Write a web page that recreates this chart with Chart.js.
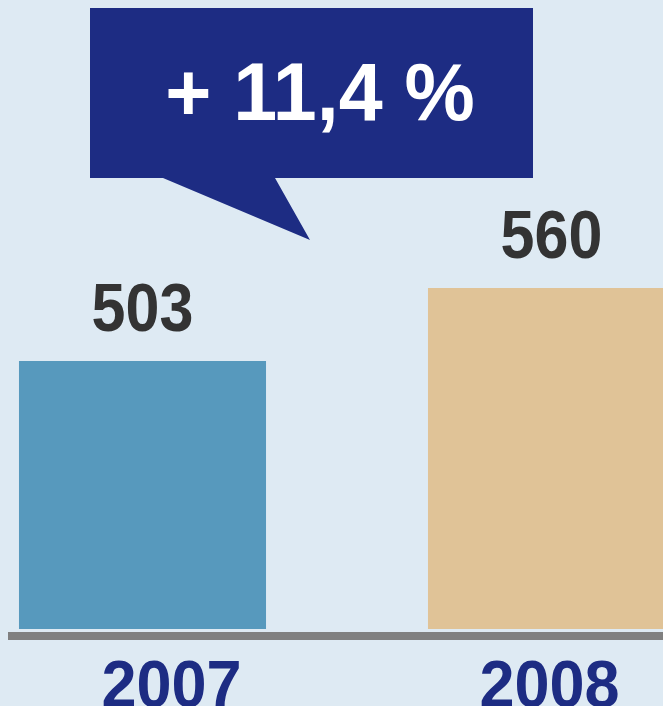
<!DOCTYPE html>
<html>
<head>
<meta charset="utf-8">
<script src="https://cdn.jsdelivr.net/npm/chart.js@4.4.0/dist/chart.umd.min.js"></script>
<style>
  html, body { margin: 0; padding: 0; background: #deeaf3; overflow: hidden; }
  #wrap { position: relative; width: 663px; height: 706px; overflow: hidden; }
  #myChart { position: absolute; left: -62px; top: 0; }
</style>
</head>
<body>
<div id="wrap"><canvas id="myChart" width="818" height="706"></canvas></div>
<script>
// chart data
let years = ['2007', '2008'];
let values = [503, 560];
let barColors = ['#5799bd', '#e0c397'];
let growthLabel = '+ 11,4 %';

let shiftX = 62; // canvas sits 62px left of the page

// draws text a bit taller than the font, like the original
function tallText(ctx, text, x, y, stretch) {
  ctx.save();
  ctx.translate(x, y);
  ctx.scale(1, stretch);
  ctx.fillText(text, 0, 0);
  ctx.restore();
}

// background, axis line, value labels, year labels, callout
let decor = {
  id: 'decor',
  beforeDraw(chart) {
    let ctx = chart.ctx;
    ctx.save();
    ctx.fillStyle = '#deeaf3';
    ctx.fillRect(0, 0, chart.width, chart.height);
    ctx.restore();
  },
  afterDatasetsDraw(chart) {
    let ctx = chart.ctx;
    let area = chart.chartArea;
    let bars = chart.getDatasetMeta(0).data;
    ctx.save();

    // base line
    ctx.fillStyle = '#808080';
    ctx.fillRect(8 + shiftX, area.bottom + 3, chart.width, 8);

    // values above bars
    ctx.font = 'bold 61px "Liberation Sans", Arial, sans-serif';
    ctx.fillStyle = '#333333';
    ctx.textAlign = 'center';
    ctx.textBaseline = 'alphabetic';
    bars.forEach((bar, i) => {
      tallText(ctx, String(values[i]), bar.x, bar.y - 30, 1.12);
    });

    // year labels
    let labelShift = [29, -2];
    ctx.fillStyle = '#1d2c83';
    ctx.font = 'bold 63px "Liberation Sans", Arial, sans-serif';
    bars.forEach((bar, i) => {
      tallText(ctx, years[i], bar.x + labelShift[i], area.bottom + 78, 1.07);
    });

    // callout box
    ctx.fillStyle = '#1d2c83';
    ctx.beginPath();
    ctx.moveTo(90 + shiftX, 8);
    ctx.lineTo(533 + shiftX, 8);
    ctx.lineTo(533 + shiftX, 178);
    ctx.lineTo(275 + shiftX, 178);
    ctx.lineTo(310 + shiftX, 240);
    ctx.lineTo(163 + shiftX, 178);
    ctx.lineTo(90 + shiftX, 178);
    ctx.closePath();
    ctx.fill();

    ctx.fillStyle = '#ffffff';
    ctx.font = 'bold 79px "Liberation Sans", Arial, sans-serif';
    tallText(ctx, growthLabel, 320 + shiftX, 120, 1.03);
    ctx.restore();
  }
};

let myChart = document.getElementById('myChart').getContext('2d');
let barChart = new Chart(myChart, {
  type: 'bar',
  data: {
    labels: years,
    datasets: [{
      data: values,
      backgroundColor: barColors,
      borderWidth: 0,
      barPercentage: 1,
      categoryPercentage: 0.604
    }]
  },
  options: {
    responsive: false,
    animation: false,
    layout: { padding: { top: 0, left: 0, right: 0, bottom: 77 } },
    plugins: {
      legend: { display: false },
      tooltip: { enabled: false }
    },
    scales: {
      x: { display: false },
      y: { display: false, min: 293.7, max: 784.8 }
    }
  },
  plugins: [decor]
});
</script>
</body>
</html>
